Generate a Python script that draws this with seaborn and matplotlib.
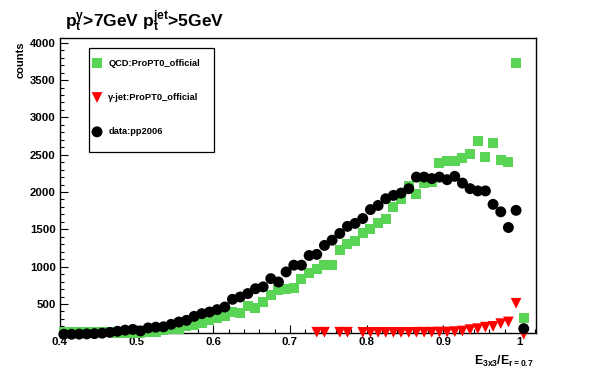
import numpy as np
import pandas as pd
import matplotlib
matplotlib.use('Agg')
import matplotlib.pyplot as plt
import seaborn as sns
from matplotlib.patches import Rectangle
from matplotlib.ticker import MultipleLocator, FixedLocator, FixedFormatter

# histogram bins: width 0.01, centers 0.405 ... 1.005
bin_centers = np.round(np.arange(0.405, 1.0051, 0.01), 3)

qcd_counts = [125, 125, 125, 125, 125, 125, 120, 115, 110, 110,
              110, 120, 130, 150, 165, 170, 205, 220, 245, 280,
              310, 340, 395, 375, 480, 445, 525, 615, 685, 705,
              715, 840, 915, 975, 1020, 1020, 1230, 1310, 1345, 1445,
              1510, 1585, 1645, 1800, 1905, 2080, 1980, 2115, 2135, 2390,
              2415, 2415, 2460, 2515, 2685, 2470, 2655, 2425, 2400, 3730,
              310]

nan = np.nan
gjet_counts = [nan, nan, nan, nan, nan, nan, nan, nan, nan, nan,
               nan, nan, nan, nan, nan, nan, nan, nan, nan, nan,
               nan, nan, nan, nan, nan, nan, nan, nan, nan, nan,
               nan, nan, nan, 122, 122, nan, 122, 122, nan, 120,
               120, 120, 120, 120, 120, 120, 122, 122, 122, 125,
               125, 130, 138, 157, 170, 190, 200, 237, 260, 510,
               95]

data_counts = [95, 95, 97, 100, 103, 110, 120, 135, 150, 160,
               140, 180, 190, 195, 228, 259, 281, 335, 371, 393,
               425, 460, 563, 594, 640, 705, 730, 840, 795, 930,
               1020, 1020, 1150, 1165, 1285, 1355, 1445, 1540, 1580, 1645,
               1765, 1820, 1910, 1955, 1985, 2045, 2200, 2200, 2180, 2200,
               2165, 2210, 2120, 2045, 2015, 2015, 1835, 1735, 1525, 1755,
               170]

xtick_values = [0.4, 0.5, 0.6, 0.7, 0.8, 0.9, 1.0]
xtick_labels = ['0.4', '0.5', '0.6', '0.7', '0.8', '0.9', '1']

df = pd.DataFrame({'x': bin_centers, 'qcd': qcd_counts,
                   'gjet': gjet_counts, 'data': data_counts})

plt.rcParams['font.family'] = ['Liberation Sans', 'DejaVu Sans']
plt.rcParams['font.weight'] = 'bold'
plt.rcParams['mathtext.fontset'] = 'custom'
plt.rcParams['mathtext.rm'] = 'Liberation Sans:bold'
plt.rcParams['mathtext.it'] = 'Liberation Sans:bold'
plt.rcParams['mathtext.bf'] = 'Liberation Sans:bold'
plt.rcParams['mathtext.default'] = 'bf'

fig = plt.figure(figsize=(5.96, 3.72), dpi=100)
ax = fig.add_axes([60 / 596, 1 - 333 / 372, 476 / 596, 295 / 372])

green = '#59d454'
sns.scatterplot(data=df, x='x', y='qcd', marker='s', s=52, color=green,
                edgecolor='none', label='QCD:ProPT0_official', ax=ax,
                clip_on=False, zorder=3)
sns.scatterplot(data=df, x='x', y='gjet', marker='v', s=60, color='red',
                edgecolor='none', label='γ-jet:ProPT0_official', ax=ax,
                clip_on=False, zorder=4)
sns.scatterplot(data=df, x='x', y='data', marker='o', s=62, color='black',
                edgecolor='none', label='data:pp2006', ax=ax,
                clip_on=False, zorder=5)

ax.set_xlim(0.4, 1.021)
ax.set_ylim(112, 4063)

ax.xaxis.set_major_locator(FixedLocator(xtick_values))
ax.xaxis.set_major_formatter(FixedFormatter(xtick_labels))
ax.xaxis.set_minor_locator(MultipleLocator(0.02))
ax.yaxis.set_major_locator(MultipleLocator(500))
ax.yaxis.set_minor_locator(MultipleLocator(100))
ax.tick_params(which='both', direction='in', top=False, right=False,
               labelsize=8.2, width=0.8)
ax.tick_params(which='major', length=5.8, pad=3)
ax.tick_params(which='minor', length=3)
for sp in ax.spines.values():
    sp.set_linewidth(1.0)

ax.set_xlabel(r'$E_{3x3}/E_{r=0.7}$', fontsize=8.8, ha='right', va='top')
ax.xaxis.set_label_coords(0.994, -0.072)
ax.set_ylabel('counts', fontsize=8, fontweight='bold', loc='top')
ax.yaxis.set_label_coords(-0.073, 0.99)

# legend box
ax.add_patch(Rectangle((0.061, 0.614), 0.2625, 0.352, transform=ax.transAxes,
                       facecolor='white', edgecolor='black', linewidth=0.9,
                       zorder=6))
ax.legend(loc='upper left', bbox_to_anchor=(0.068, 0.930), frameon=False,
          fontsize=6.7, borderpad=0, borderaxespad=0, labelspacing=2.72,
          handlelength=1.0, handletextpad=0.7).set_zorder(7)

fig.text(65 / 596, 1 - 27 / 372, r'$p_t^{\gamma}$>7GeV $p_t^{jet}$>5GeV',
         fontsize=12.5, fontweight='bold', ha='left', va='baseline')

fig.savefig('out.png', dpi=100)
